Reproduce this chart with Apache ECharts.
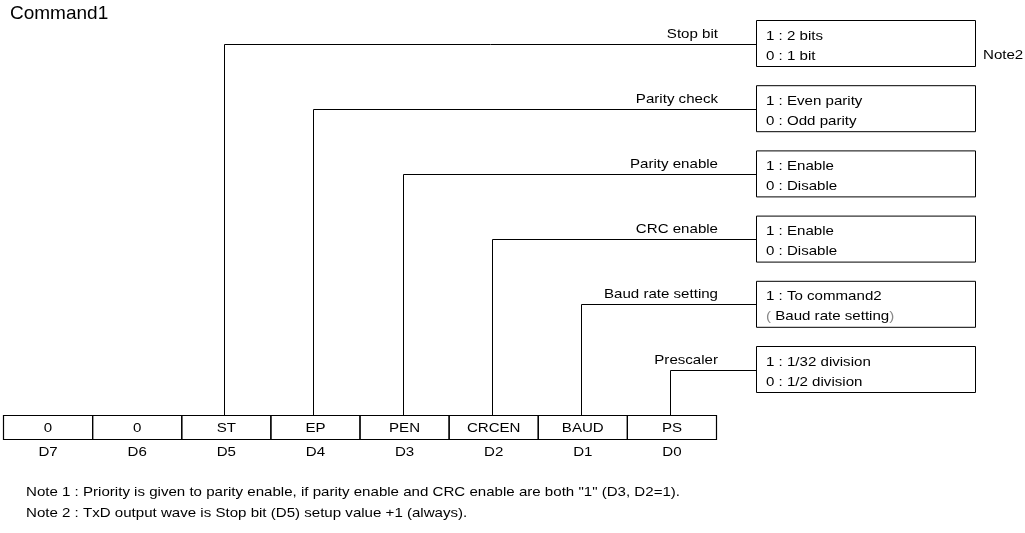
<!DOCTYPE html>
<html><head><meta charset="utf-8">
<script src="https://cdn.jsdelivr.net/npm/echarts@6/dist/echarts.min.js"></script>
<style>html,body{margin:0;padding:0;background:#fff}#c{width:1025px;height:533px}</style>
</head><body><div id="c"></div>
<script>
// ---- content ----
const titleText = 'Command1';
const bitLabels = ['0', '0', 'ST', 'EP', 'PEN', 'CRCEN', 'BAUD', 'PS'];
const bitNames = ['D7', 'D6', 'D5', 'D4', 'D3', 'D2', 'D1', 'D0'];
const fieldNames = ['Stop bit', 'Parity check', 'Parity enable', 'CRC enable', 'Baud rate setting', 'Prescaler'];
const fieldBits = [2, 3, 4, 5, 6, 7];
const fieldOption1 = ['1 : 2 bits', '1 : Even parity', '1 : Enable', '1 : Enable', '1 : To command2', '1 : 1/32 division'];
const fieldOption0 = ['0 : 1 bit', '0 : Odd parity', '0 : Disable', '0 : Disable', '( Baud rate setting)', '0 : 1/2 division'];
const fieldNoteRefs = ['Note2', '', '', '', '', ''];
const footNotes = [
  'Note 1 : Priority is given to parity enable, if parity enable and CRC enable are both "1" (D3, D2=1).',
  'Note 2 : TxD output wave is Stop bit (D5) setup value +1 (always).'
];

// ---- layout ----
const FONT = '"Liberation Sans", Arial, Helvetica, sans-serif';
const SX = 1.16, FS = 13;
const REG_LEFT = 3.5, CELL_W = 89.125, REG_TOP = 415.5, REG_BOTTOM = 439.5;
const REG_TEXT_Y = 428, NAME_Y = 452, BIT_LINE_DX = -2;
const BOX_TOP0 = 20.5, ROW_STEP = 65.2, BOX_H = 46, BOX_LEFT = 756.5, BOX_RIGHT = 975.5;
const LABEL_RIGHT = 718, BOX_TEXT_X = 766, NOTE_REF_X = 983;

function txt(api, x, y, s, align, size, scale) {
  const p = api.coord([x, y]);
  const hasParen = /[()]/.test(s) && s.indexOf(':') < 0;
  const style = { text: s, x: 0, y: 0, fill: '#000', fontSize: size, fontFamily: FONT,
    align: align, verticalAlign: 'middle', textAlign: align, textVerticalAlign: 'middle' };
  if (hasParen) {
    style.text = s.replace(/[()]/g, m => '{p|' + m + '}').replace(/([^{}|()]+)(?=\{|$)/g, m => m);
    style.rich = { p: { fill: '#888', fontSize: size, fontFamily: FONT } };
  }
  return { type: 'text', x: p[0], y: p[1], scaleX: scale, scaleY: 1, style: style };
}
function rectEl(api, x0, y0, x1, y1, lw) {
  const a = api.coord([x0, y0]), b = api.coord([x1, y1]);
  return { type: 'rect', shape: { x: a[0], y: a[1], width: b[0] - a[0], height: b[1] - a[1] },
    style: { fill: 'none', stroke: '#000', lineWidth: lw } };
}

const chart = echarts.init(document.getElementById('c'), null, { renderer: 'canvas' });
chart.setOption({
  backgroundColor: '#fff',
  animation: false,
  grid: { left: 0, right: 0, top: 0, bottom: 0 },
  xAxis: { type: 'value', min: 0, max: 1025, show: false },
  yAxis: { type: 'value', min: 0, max: 533, inverse: true, show: false },
  series: [
    { // register cells
      type: 'custom', clip: false, silent: true,
      data: bitLabels.map((b, i) => [i, 0]),
      renderItem(params, api) {
        const i = api.value(0);
        const x0 = REG_LEFT + i * CELL_W, x1 = x0 + CELL_W;
        return { type: 'group', children: [
          rectEl(api, x0, REG_TOP, x1, REG_BOTTOM, 1.2),
          txt(api, (x0 + x1) / 2, REG_TEXT_Y, bitLabels[i], 'center', FS, SX),
          txt(api, (x0 + x1) / 2, NAME_Y, bitNames[i], 'center', FS, SX)
        ] };
      }
    },
    { // fields
      type: 'custom', clip: false, silent: true,
      data: fieldNames.map((f, k) => [k, 0]),
      renderItem(params, api) {
        const k = api.value(0);
        const bx = Math.round(REG_LEFT + (fieldBits[k] + 0.5) * CELL_W + BIT_LINE_DX) + 0.5;
        const top = BOX_TOP0 + k * ROW_STEP;
        const ly = Math.round(top + 23) + 0.5;
        const pts = [[bx, REG_TOP], [bx, ly], [BOX_LEFT, ly]].map(p => api.coord(p));
        const ch = [
          { type: 'polyline', shape: { points: pts }, style: { fill: 'none', stroke: '#000', lineWidth: 1 } },
          rectEl(api, BOX_LEFT, top, BOX_RIGHT, top + BOX_H, 1),
          txt(api, LABEL_RIGHT, ly - 10, fieldNames[k], 'right', FS, SX),
          txt(api, BOX_TEXT_X, top + 15.5, fieldOption1[k], 'left', FS, SX),
          txt(api, BOX_TEXT_X, top + 35.5, fieldOption0[k], 'left', FS, SX)
        ];
        if (fieldNoteRefs[k]) ch.push(txt(api, NOTE_REF_X, top + 34.5, fieldNoteRefs[k], 'left', FS, SX));
        return { type: 'group', children: ch };
      }
    },
    { // title and foot notes
      type: 'custom', clip: false, silent: true,
      data: [[-1, 0]].concat(footNotes.map((n, i) => [i, 0])),
      renderItem(params, api) {
        const i = api.value(0);
        if (i < 0) return txt(api, 10, 14, titleText, 'left', 19, 1);
        return txt(api, 26, 492 + i * 21.3, footNotes[i], 'left', FS, SX);
      }
    }
  ]
});
</script></body></html>
